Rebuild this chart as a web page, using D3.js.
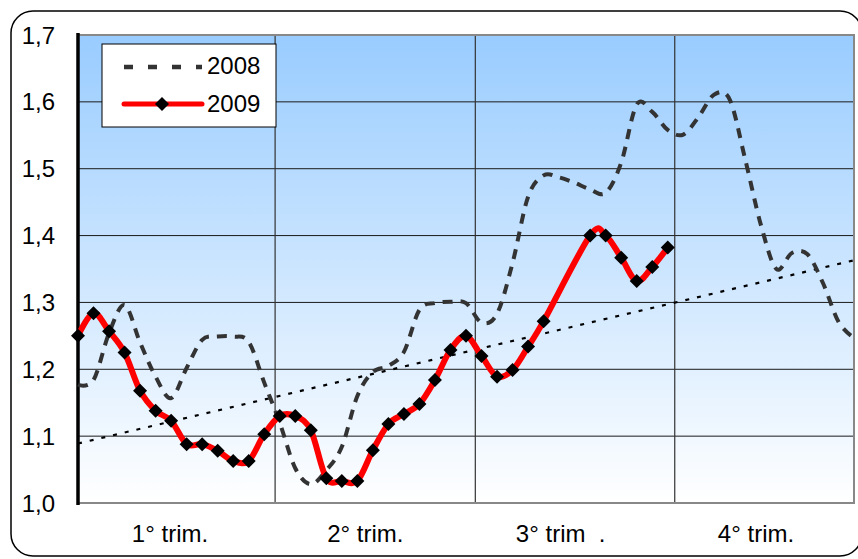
<!DOCTYPE html>
<html>
<head>
<meta charset="utf-8">
<script src="https://d3js.org/d3.v7.min.js"></script>
<style>
  body { margin: 0; background: #fff; }
  text { font-family: 'Liberation Sans', Arial, sans-serif; }
</style>
</head>
<body>
<div id="dataviz"></div>
<script>
// data (weekly values, 0 = first week of the year)
const quarters = ['1° trim.', '2° trim.', '3° trim  .', '4° trim.'];
const quarterBreaks = [12.7, 25.6, 38.45];   // week positions of the quarter gridlines
const yTicks = [1.0, 1.1, 1.2, 1.3, 1.4, 1.5, 1.6, 1.7];

const series2008 = [1.177, 1.184, 1.254, 1.296, 1.240, 1.189, 1.157, 1.202, 1.244, 1.249,
    1.249, 1.241, 1.180, 1.120, 1.052, 1.028, 1.049, 1.084, 1.160, 1.196,
    1.205, 1.226, 1.289, 1.299, 1.301, 1.299, 1.270, 1.283, 1.359, 1.458,
    1.490, 1.487, 1.479, 1.469, 1.464, 1.509, 1.596, 1.585, 1.558, 1.551,
    1.578, 1.611, 1.603, 1.513, 1.416, 1.350, 1.374, 1.372, 1.329, 1.271,
    1.247];

const series2009 = [1.250, 1.284, 1.257, 1.225, 1.168, 1.138, 1.123, 1.088, 1.088, 1.078,
    1.063, 1.063, 1.103, 1.130, 1.130, 1.109, 1.037, 1.033, 1.033, 1.079,
    1.118, 1.133, 1.148, 1.184, 1.229, 1.250, 1.220, 1.189, 1.199, 1.234,
    1.272, null, null, 1.400, 1.400, 1.367, 1.332, 1.353, 1.382];

// dotted trend line of 2008 (start and end value)
const trend2008 = [1.089, 1.363];

// set the dimensions and margins of the graph
let margin = { top: 35, right: 4, bottom: 56, left: 78 },
    width = 858 - margin.left - margin.right,
    height = 559 - margin.top - margin.bottom;

let root = d3.select("#dataviz")
    .append("svg")
    .attr("width", 858)
    .attr("height", 559);

// gradient for the plot area
let grad = root.append("defs")
    .append("linearGradient")
    .attr("id", "bgGrad")
    .attr("x1", 0).attr("y1", 0).attr("x2", 0).attr("y2", 1);
grad.append("stop").attr("offset", "0%").attr("stop-color", "#99ccff");
grad.append("stop").attr("offset", "100%").attr("stop-color", "#ffffff");

// rounded outer frame
root.append("rect")
    .attr("x", 11).attr("y", 11)
    .attr("width", 851).attr("height", 545)
    .attr("rx", 22).attr("ry", 22)
    .attr("fill", "none")
    .attr("stroke", "#000")
    .attr("stroke-width", 1.5);

let svg = root.append("g")
    .attr("transform", "translate(" + margin.left + "," + margin.top + ")");

// scales
const x = d3.scaleLinear()
    .domain([0, series2008.length - 1])
    .range([0, width]);

const y = d3.scaleLinear()
    .domain([1.0, 1.7])
    .range([height, 0]);

const qx = d3.scalePoint()
    .domain(quarters)
    .range([92, width - 98]);

const itFormat = d3.formatLocale({ decimal: ",", thousands: ".", grouping: [3], currency: ["", "€"] }).format(".1f");

// plot background
svg.append("rect")
    .attr("width", width)
    .attr("height", height)
    .attr("fill", "url(#bgGrad)");

// horizontal gridlines
svg.append("g")
    .selectAll("line")
    .data(yTicks.slice(1, -1))
    .join("line")
    .attr("x1", 0).attr("x2", width)
    .attr("y1", d => y(d)).attr("y2", d => y(d))
    .attr("stroke", "#1a1a1a")
    .attr("stroke-width", 1);

// vertical quarter gridlines
svg.append("g")
    .selectAll("line")
    .data(quarterBreaks)
    .join("line")
    .attr("x1", d => x(d)).attr("x2", d => x(d))
    .attr("y1", 0).attr("y2", height)
    .attr("stroke", "#333")
    .attr("stroke-width", 1.2);

// plot border: top, right, bottom in grey
svg.append("path")
    .attr("d", "M0,0H" + width + "V" + height + "H0")
    .attr("fill", "none")
    .attr("stroke", "#888")
    .attr("stroke-width", 2);

// y axis line
svg.append("line")
    .attr("x1", 0).attr("x2", 0)
    .attr("y1", -2).attr("y2", height + 2)
    .attr("stroke", "#000")
    .attr("stroke-width", 3.5);

// y tick labels
svg.append("g")
    .selectAll("text")
    .data(yTicks)
    .join("text")
    .attr("x", -23)
    .attr("y", d => y(d))
    .attr("dy", "0.36em")
    .attr("text-anchor", "end")
    .style("font-size", "24px")
    .attr("fill", "#000")
    .text(d => itFormat(d));

// x (quarter) labels
svg.append("g")
    .selectAll("text")
    .data(quarters)
    .join("text")
    .attr("x", d => qx(d))
    .attr("y", height + 39)
    .attr("text-anchor", "middle")
    .style("font-size", "24px")
    .style("white-space", "pre")
    .attr("fill", "#000")
    .text(d => d);

// trend line 2008
svg.append("line")
    .attr("x1", x(0)).attr("y1", y(trend2008[0]))
    .attr("x2", x(series2008.length - 1)).attr("y2", y(trend2008[1]))
    .attr("stroke", "#000")
    .attr("stroke-width", 2.2)
    .attr("stroke-dasharray", "4,8");

// 2008 dashed smooth line
let line2008 = d3.line()
    .x((d, i) => x(i))
    .y(d => y(d))
    .curve(d3.curveCardinal.tension(0));

svg.append("path")
    .datum(series2008)
    .attr("d", line2008)
    .attr("fill", "none")
    .attr("stroke", "#333")
    .attr("stroke-width", 4)
    .attr("stroke-dasharray", "10,8");

// 2009 red smooth line with diamond markers
let pts2009 = series2009
    .map((v, i) => ({ i: i, v: v }))
    .filter(d => d.v !== null);

let line2009 = d3.line()
    .x(d => x(d.i))
    .y(d => y(d.v))
    .curve(d3.curveCardinal.tension(0));

svg.append("path")
    .datum(pts2009)
    .attr("d", line2009)
    .attr("fill", "none")
    .attr("stroke", "#ff0000")
    .attr("stroke-width", 6)
    .attr("stroke-linejoin", "round");

const diamond = "M0,-7L7,0L0,7L-7,0Z";

svg.append("g")
    .selectAll("path")
    .data(pts2009)
    .join("path")
    .attr("transform", d => "translate(" + x(d.i) + "," + y(d.v) + ")")
    .attr("d", diamond)
    .attr("fill", "#000");

// legend
let legend = svg.append("g")
    .attr("transform", "translate(24,9)");

legend.append("rect")
    .attr("width", 174)
    .attr("height", 83)
    .attr("fill", "#fff")
    .attr("stroke", "#000")
    .attr("stroke-width", 1);

legend.append("line")
    .attr("x1", 22).attr("x2", 100)
    .attr("y1", 23).attr("y2", 23)
    .attr("stroke", "#333")
    .attr("stroke-width", 4.5)
    .attr("stroke-dasharray", "9,15");

legend.append("text")
    .attr("x", 105).attr("y", 30)
    .style("font-size", "24px")
    .text("2008");

legend.append("line")
    .attr("x1", 22).attr("x2", 100)
    .attr("y1", 60).attr("y2", 60)
    .attr("stroke", "#ff0000")
    .attr("stroke-width", 5)
    .attr("stroke-linecap", "round");

legend.append("path")
    .attr("transform", "translate(60,60)")
    .attr("d", diamond)
    .attr("fill", "#000");

legend.append("text")
    .attr("x", 105).attr("y", 68)
    .style("font-size", "24px")
    .text("2009");
</script>
</body>
</html>
